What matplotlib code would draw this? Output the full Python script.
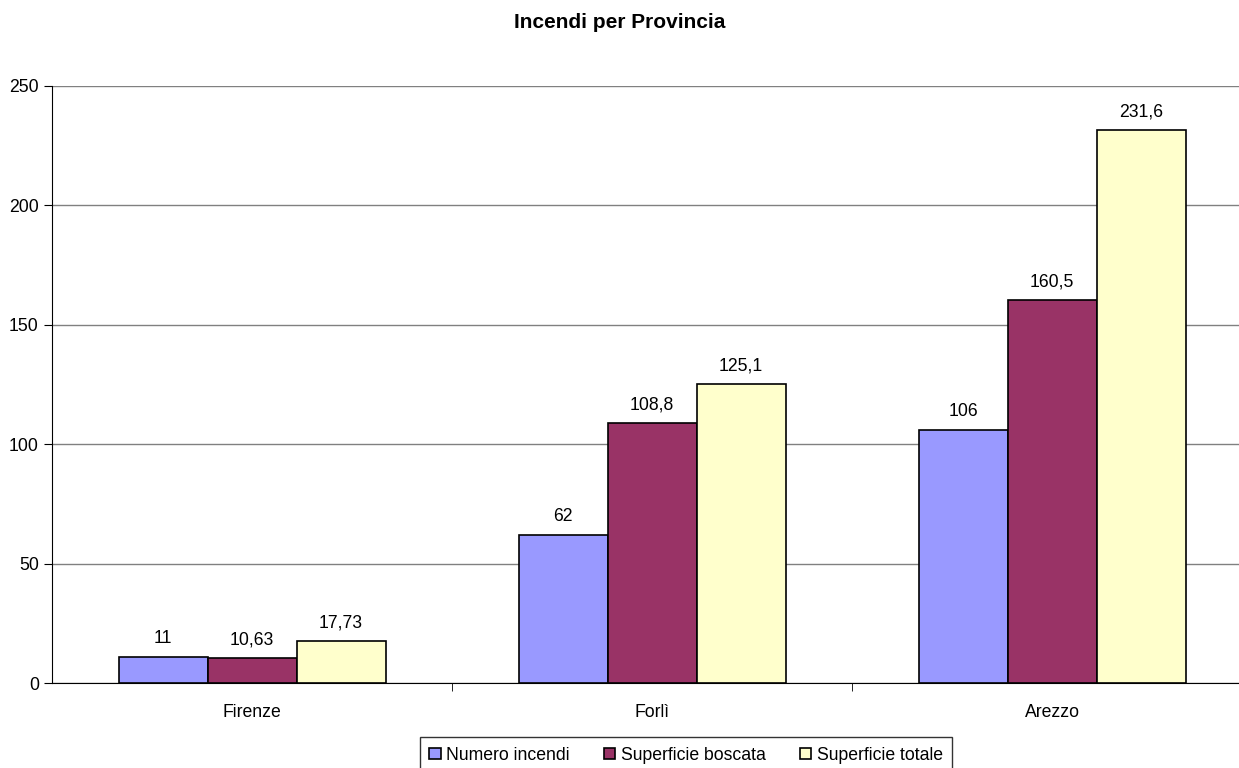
import numpy as np
import matplotlib.pyplot as plt

plt.rcParams['font.family'] = ['Liberation Sans', 'DejaVu Sans']

province = ['Firenze', 'Forlì', 'Arezzo']
numero_incendi = [11, 62, 106]
superficie_boscata = [10.63, 108.8, 160.5]
superficie_totale = [17.73, 125.1, 231.6]
series = ['Numero incendi', 'Superficie boscata', 'Superficie totale']
colori = ['#9999FF', '#993366', '#FFFFCC']

fig = plt.figure(figsize=(12.39, 7.68), dpi=100)
ax = fig.add_axes([52/1239, 1-683/768, 1200/1239, (683-86)/768])

x = np.arange(len(province))
w = 0.2225
for i, (vals, lab, c) in enumerate(zip([numero_incendi, superficie_boscata, superficie_totale], series, colori)):
    bars = ax.bar(x + (i-1)*w, vals, w, color=c, edgecolor='black', linewidth=1.2, label=lab, zorder=3)
    for b, v in zip(bars, vals):
        ax.text(b.get_x() + b.get_width()/2, v + 4, f"{v:g}".replace('.', ','),
                ha='center', va='bottom', fontsize=12.7)

ax.set_xlim(-0.5, 2.5)
ax.set_ylim(0, 250)
ax.set_yticks([0, 50, 100, 150, 200, 250])
ax.yaxis.grid(True, color='#808080', linewidth=1, zorder=0)
ax.set_xticks(x)
ax.set_xticklabels(province, fontsize=12.7)
ax.set_xticks([0.5, 1.5], minor=True)
ax.tick_params(axis='x', which='major', length=0, pad=15)
ax.tick_params(axis='x', which='minor', length=6, direction='out')
ax.tick_params(axis='y', labelsize=12.7, length=6)
ax.spines['top'].set_visible(False)
ax.spines['right'].set_visible(False)

fig.text(0.5, 1-22/768, 'Incendi per Provincia', ha='center', va='center', fontsize=15, fontweight='bold')

leg = fig.legend(loc='upper center', bbox_to_anchor=(686/1239, 1-737/768), ncol=3, fontsize=12.7,
                 frameon=True, fancybox=False, edgecolor='black', handlelength=0.65, handleheight=0.65,
                 handletextpad=0.3, columnspacing=1.95, borderpad=0.55, borderaxespad=0)
leg.get_frame().set_linewidth(1)

fig.savefig('out.png', dpi=100)
